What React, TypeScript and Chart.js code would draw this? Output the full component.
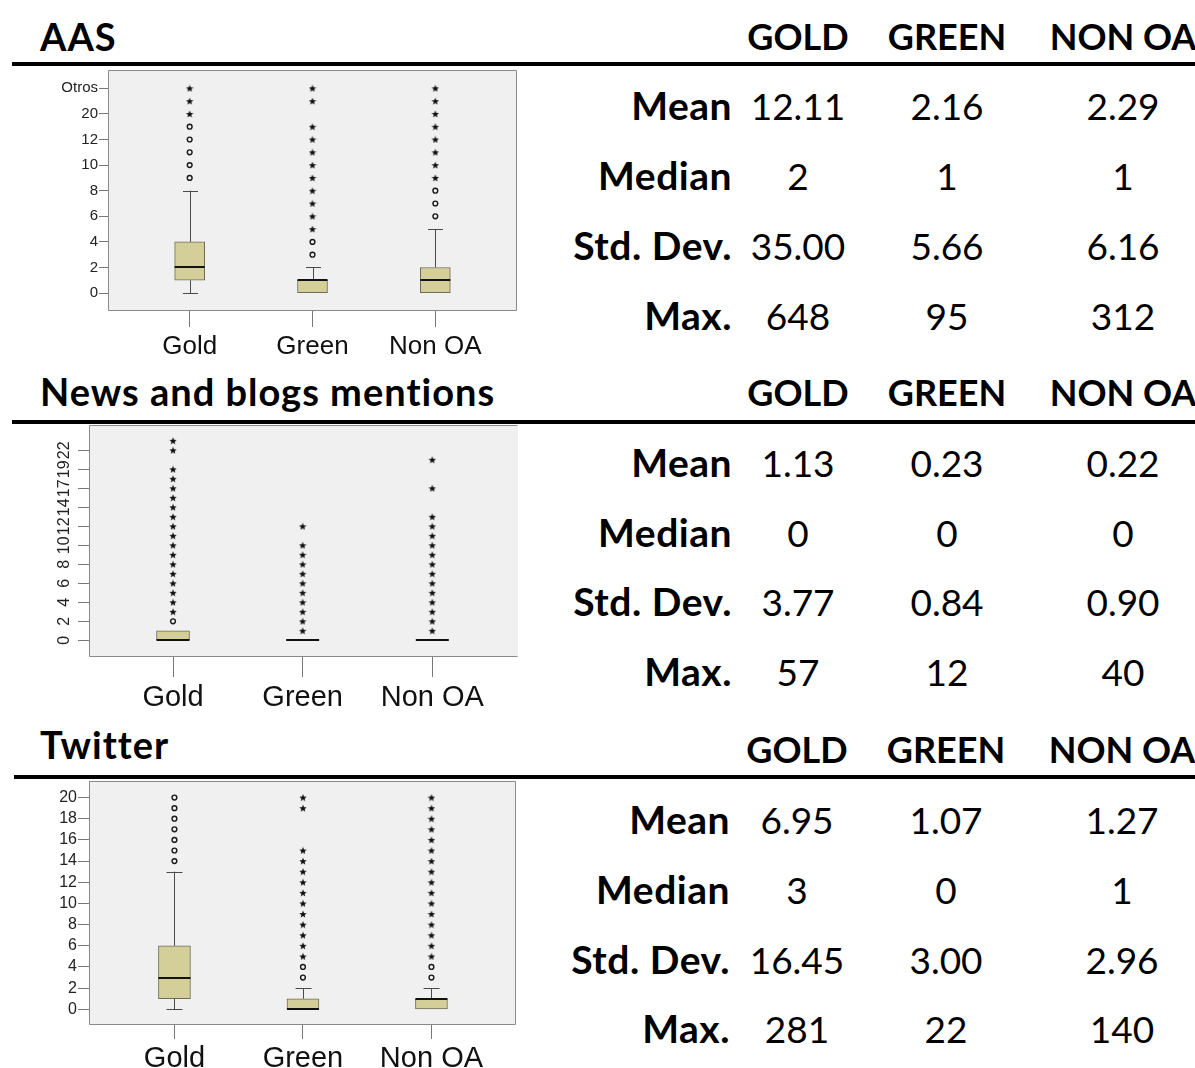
import React, { useEffect, useRef } from 'react';
import { Chart, registerables } from 'chart.js';
Chart.register(...registerables);

const categories = ['Gold', 'Green', 'Non OA'];
const statColumns = ['GOLD', 'GREEN', 'NON OA'];
const statRows = ['Mean', 'Median', 'Std. Dev.', 'Max.'];

// ---------- AAS ----------
const aasTickValues = [0, 2, 4, 6, 8, 10, 12, 14, 16];
const aasTickLabels = ['0', '2', '4', '6', '8', '10', '12', '20', 'Otros'];
const aasQ1 = [1, 0, 0];
const aasQ3 = [4, 1, 2];
const aasMedian = [2, 1, 1];
const aasWhiskerLow = [0, 0, 0];
const aasWhiskerHigh = [8, 2, 5];
const aasCircles = [[9, 10, 11, 12, 13], [3, 4], [6, 7, 8]];
const aasStars = [[14, 15, 16], [5, 6, 7, 8, 9, 10, 11, 12, 13, 15, 16], [9, 10, 11, 12, 13, 14, 15, 16]];
const aasMean = ['12.11', '2.16', '2.29'];
const aasMedianStat = ['2', '1', '1'];
const aasStd = ['35.00', '5.66', '6.16'];
const aasMax = ['648', '95', '312'];

// ---------- News and blogs ----------
const newsTickValues = [0, 2, 4, 6, 8, 10, 12, 14, 16, 18, 20];
const newsTickLabels = ['0', '2', '4', '6', '8', '10', '12', '14', '17', '19', '22'];
const newsQ1 = [0, 0, 0];
const newsQ3 = [1, 0, 0];
const newsMedian = [0, 0, 0];
const newsWhiskerLow = [0, 0, 0];
const newsWhiskerHigh = [1, 0, 0];
const newsCircles = [[2], [], []];
const newsStars = [
  [3, 4, 5, 6, 7, 8, 9, 10, 11, 12, 13, 14, 15, 16, 17, 18, 20, 21],
  [1, 2, 3, 4, 5, 6, 7, 8, 9, 10, 12],
  [1, 2, 3, 4, 5, 6, 7, 8, 9, 10, 11, 12, 13, 16, 19],
];
const newsMean = ['1.13', '0.23', '0.22'];
const newsMedianStat = ['0', '0', '0'];
const newsStd = ['3.77', '0.84', '0.90'];
const newsMax = ['57', '12', '40'];

// ---------- Twitter ----------
const twTickValues = [0, 2, 4, 6, 8, 10, 12, 14, 16, 18, 20];
const twTickLabels = ['0', '2', '4', '6', '8', '10', '12', '14', '16', '18', '20'];
const twQ1 = [1, 0, 0];
const twQ3 = [6, 1, 1];
const twMedian = [3, 0, 1];
const twWhiskerLow = [0, 0, 0];
const twWhiskerHigh = [13, 2, 2];
const twCircles = [[14, 15, 16, 17, 18, 19, 20], [3, 4], [3, 4]];
const twStars = [
  [],
  [5, 6, 7, 8, 9, 10, 11, 12, 13, 14, 15, 19, 20],
  [5, 6, 7, 8, 9, 10, 11, 12, 13, 14, 15, 16, 17, 18, 19, 20],
];
const twMean = ['6.95', '1.07', '1.27'];
const twMedianStat = ['3', '0', '1'];
const twStd = ['16.45', '3.00', '2.96'];
const twMax = ['281', '22', '140'];

const BOX_FILL = '#d4cf99';
const BOX_EDGE = '#6e6c56';
const PLOT_BG = '#f0f0f0';
const FRAME = '#8a8a8a';

function makeStar(): HTMLCanvasElement {
  const c = document.createElement('canvas');
  c.width = 8;
  c.height = 8;
  const ctx = c.getContext('2d')!;
  ctx.fillStyle = '#111';
  ctx.beginPath();
  for (let k = 0; k < 10; k++) {
    const r = k % 2 === 0 ? 3.9 : 1.7;
    const a = -Math.PI / 2 + (k * Math.PI) / 5;
    const px = 4 + r * Math.cos(a);
    const py = 4.4 + r * Math.sin(a);
    if (k === 0) ctx.moveTo(px, py);
    else ctx.lineTo(px, py);
  }
  ctx.closePath();
  ctx.fill();
  return c;
}

interface BoxSpec {
  canvasTop: number;
  canvasHeight: number;
  canvasWidth: number;
  area: { left: number; top: number; right: number; bottom: number };
  xMin: number;
  xMax: number;
  yMin: number;
  yMax: number;
  tickValues: number[];
  tickLabels: string[];
  q1: number[];
  q3: number[];
  median: number[];
  low: number[];
  high: number[];
  circles: number[][];
  stars: number[][];
  boxWidth: number;
  capWidth: number;
  yFontSize: number;
  yPad: number;
  yTickLen: number;
  rotateY: boolean;
  rotLabelX: number;
  xFontSize: number;
  xPad: number;
  xTickLen: number;
  borders: { top: boolean; right: boolean; bottom: boolean; left: boolean };
}

function makePlugin(s: BoxSpec) {
  return {
    id: 'boxparts',
    beforeDraw(chart: any) {
      const { ctx, chartArea: a } = chart;
      ctx.save();
      ctx.fillStyle = PLOT_BG;
      ctx.fillRect(a.left, a.top, a.right - a.left, a.bottom - a.top);
      ctx.restore();
    },
    beforeDatasetsDraw(chart: any) {
      const { ctx } = chart;
      const xs = chart.scales.x;
      const ys = chart.scales.y;
      ctx.save();
      ctx.strokeStyle = '#4a4a4a';
      ctx.lineWidth = 1;
      for (let i = 0; i < categories.length; i++) {
        const x = Math.round(xs.getPixelForValue(i)) + 0.5;
        const yq1 = ys.getPixelForValue(s.q1[i]);
        const yq3 = ys.getPixelForValue(s.q3[i]);
        const yl = ys.getPixelForValue(s.low[i]);
        const yh = ys.getPixelForValue(s.high[i]);
        ctx.beginPath();
        if (s.low[i] < s.q1[i]) {
          ctx.moveTo(x, yq1);
          ctx.lineTo(x, yl);
          ctx.moveTo(x - s.capWidth / 2, Math.round(yl) + 0.5);
          ctx.lineTo(x + s.capWidth / 2, Math.round(yl) + 0.5);
        }
        if (s.high[i] > s.q3[i]) {
          ctx.moveTo(x, yq3);
          ctx.lineTo(x, yh);
          ctx.moveTo(x - s.capWidth / 2, Math.round(yh) + 0.5);
          ctx.lineTo(x + s.capWidth / 2, Math.round(yh) + 0.5);
        }
        ctx.stroke();
      }
      ctx.restore();
    },
    afterDatasetsDraw(chart: any) {
      const { ctx } = chart;
      const xs = chart.scales.x;
      const ys = chart.scales.y;
      ctx.save();
      ctx.strokeStyle = '#111';
      ctx.lineWidth = 2;
      for (let i = 0; i < categories.length; i++) {
        const x = xs.getPixelForValue(i);
        const y = Math.round(ys.getPixelForValue(s.median[i]));
        ctx.beginPath();
        ctx.moveTo(x - s.boxWidth / 2, y);
        ctx.lineTo(x + s.boxWidth / 2, y);
        ctx.stroke();
      }
      ctx.restore();
    },
    afterDraw(chart: any) {
      const { ctx, chartArea: a } = chart;
      ctx.save();
      ctx.strokeStyle = FRAME;
      ctx.lineWidth = 1;
      const L = Math.round(a.left) + 0.5;
      const R = Math.round(a.right) - 0.5;
      const T = Math.round(a.top) + 0.5;
      const B = Math.round(a.bottom) - 0.5;
      ctx.beginPath();
      if (s.borders.top) { ctx.moveTo(L, T); ctx.lineTo(R, T); }
      if (s.borders.right) { ctx.moveTo(R, T); ctx.lineTo(R, B); }
      if (s.borders.bottom) { ctx.moveTo(L, B); ctx.lineTo(R, B); }
      if (s.borders.left) { ctx.moveTo(L, T); ctx.lineTo(L, B); }
      ctx.stroke();
      if (s.rotateY) {
        const ys = chart.scales.y;
        ctx.fillStyle = '#222';
        ctx.font = `${s.yFontSize}px "Liberation Sans", Arial, sans-serif`;
        ctx.textAlign = 'center';
        ctx.textBaseline = 'middle';
        s.tickValues.forEach((v, i) => {
          const y = ys.getPixelForValue(v);
          ctx.save();
          ctx.translate(s.rotLabelX, y);
          ctx.rotate(-Math.PI / 2);
          ctx.fillText(s.tickLabels[i], 0, 0);
          ctx.restore();
        });
      }
      ctx.restore();
    },
  };
}

function BoxChart({ spec }: { spec: BoxSpec }) {
  const ref = useRef<HTMLCanvasElement | null>(null);
  useEffect(() => {
    if (!ref.current) return;
    const s = spec;
    const star = makeStar();
    const circlePts: { x: number; y: number }[] = [];
    const starPts: { x: number; y: number }[] = [];
    s.circles.forEach((vals, i) => vals.forEach((v) => circlePts.push({ x: i, y: v })));
    s.stars.forEach((vals, i) => vals.forEach((v) => starPts.push({ x: i, y: v })));
    const chart = new Chart(ref.current, {
      type: 'bar',
      data: {
        datasets: [
          {
            type: 'bar',
            data: categories.map((_, i) => ({ x: i, y: [s.q1[i], s.q3[i]] })) as any,
            backgroundColor: BOX_FILL,
            borderColor: BOX_EDGE,
            borderWidth: 1,
            borderSkipped: false,
            barThickness: s.boxWidth,
          } as any,
          {
            type: 'scatter',
            data: circlePts,
            pointStyle: 'circle',
            pointRadius: 2.4,
            pointBorderWidth: 1.4,
            pointBorderColor: '#1a1a1a',
            pointBackgroundColor: PLOT_BG,
          } as any,
          {
            type: 'scatter',
            data: starPts,
            pointStyle: star,
            pointRadius: 4,
          } as any,
        ],
      },
      options: {
        animation: false,
        responsive: false,
        devicePixelRatio: 1,
        events: [],
        layout: {
          padding: {
            top: s.area.top - s.canvasTop,
            right: s.canvasWidth - s.area.right,
            left: 0,
            bottom: 0,
          },
        },
        plugins: { legend: { display: false }, tooltip: { enabled: false } },
        scales: {
          x: {
            type: 'linear',
            min: s.xMin,
            max: s.xMax,
            offset: false,
            afterBuildTicks: (ax: any) => {
              ax.ticks = categories.map((_, i) => ({ value: i }));
            },
            afterFit: (ax: any) => {
              ax.height = s.canvasTop + s.canvasHeight - s.area.bottom;
            },
            ticks: {
              autoSkip: false,
              maxRotation: 0,
              minRotation: 0,
              padding: s.xPad,
              color: '#111',
              font: { family: '"Liberation Sans", Arial, sans-serif', size: s.xFontSize },
              callback: (_v: any, i: number) => categories[i],
            },
            grid: {
              drawOnChartArea: false,
              drawTicks: true,
              tickLength: s.xTickLen,
              color: '#777',
              tickColor: '#777',
              offset: false,
            },
            border: { display: false },
          } as any,
          y: {
            type: 'linear',
            min: s.yMin,
            max: s.yMax,
            afterBuildTicks: (ax: any) => {
              ax.ticks = s.tickValues.map((v) => ({ value: v }));
            },
            afterFit: (ax: any) => {
              ax.width = s.area.left;
            },
            ticks: {
              display: !s.rotateY,
              autoSkip: false,
              padding: s.yPad,
              color: '#222',
              font: { family: '"Liberation Sans", Arial, sans-serif', size: s.yFontSize },
              callback: (_v: any, i: number) => s.tickLabels[i],
            },
            grid: {
              drawOnChartArea: false,
              drawTicks: true,
              tickLength: s.yTickLen,
              color: '#777',
              tickColor: '#777',
            },
            border: { display: false },
          } as any,
        },
      },
      plugins: [makePlugin(s) as any],
    });
    return () => chart.destroy();
  }, [spec]);
  return (
    <canvas
      ref={ref}
      width={spec.canvasWidth}
      height={spec.canvasHeight}
      style={{ position: 'absolute', left: 0, top: spec.canvasTop, width: spec.canvasWidth, height: spec.canvasHeight }}
    />
  );
}

const aasSpec: BoxSpec = {
  canvasTop: 60, canvasHeight: 310, canvasWidth: 540,
  area: { left: 108, top: 69, right: 517, bottom: 311 },
  xMin: -0.665, xMax: 2.665, yMin: -1.4, yMax: 17.43,
  tickValues: aasTickValues, tickLabels: aasTickLabels,
  q1: aasQ1, q3: aasQ3, median: aasMedian, low: aasWhiskerLow, high: aasWhiskerHigh,
  circles: aasCircles, stars: aasStars,
  boxWidth: 30, capWidth: 15,
  yFontSize: 15, yPad: 1, yTickLen: 9, rotateY: false, rotLabelX: 0,
  xFontSize: 26, xPad: 4, xTickLen: 16,
  borders: { top: true, right: true, bottom: true, left: true },
};

const newsSpec: BoxSpec = {
  canvasTop: 415, canvasHeight: 310, canvasWidth: 540,
  area: { left: 89, top: 425, right: 518, bottom: 657 },
  xMin: -0.648, xMax: 2.661, yMin: -1.76, yMax: 22.66,
  tickValues: newsTickValues, tickLabels: newsTickLabels,
  q1: newsQ1, q3: newsQ3, median: newsMedian, low: newsWhiskerLow, high: newsWhiskerHigh,
  circles: newsCircles, stars: newsStars,
  boxWidth: 33, capWidth: 15,
  yFontSize: 16, yPad: 2, yTickLen: 11, rotateY: true, rotLabelX: 65,
  xFontSize: 29, xPad: 4, xTickLen: 20,
  borders: { top: true, right: false, bottom: true, left: true },
};

const twSpec: BoxSpec = {
  canvasTop: 770, canvasHeight: 298, canvasWidth: 540,
  area: { left: 89, top: 780, right: 516, bottom: 1025 },
  xMin: -0.665, xMax: 2.658, yMin: -1.48, yMax: 21.6,
  tickValues: twTickValues, tickLabels: twTickLabels,
  q1: twQ1, q3: twQ3, median: twMedian, low: twWhiskerLow, high: twWhiskerHigh,
  circles: twCircles, stars: twStars,
  boxWidth: 32, capWidth: 16,
  yFontSize: 16, yPad: 1, yTickLen: 11, rotateY: false, rotLabelX: 0,
  xFontSize: 29, xPad: 3, xTickLen: 14,
  borders: { top: true, right: true, bottom: true, left: true },
};

const FONT = 'Lato, "Open Sans", sans-serif';

function Txt({ text, x, y, align, bold, size, spacing }: { text: string; x: number; y: number; align: 'left' | 'center' | 'right'; bold?: boolean; size: number; spacing?: number }) {
  const w = 520;
  const left = align === 'left' ? x : align === 'center' ? x - w / 2 : x - w;
  return (
    <div
      style={{
        position: 'absolute',
        left,
        top: y - 0.53 * size,
        width: w,
        textAlign: align,
        fontFamily: FONT,
        fontWeight: bold ? 700 : 400,
        fontSize: size,
        lineHeight: `${size}px`,
        letterSpacing: spacing ? `${spacing}px` : undefined,
        marginRight: align === 'right' && spacing ? -spacing : undefined,
        whiteSpace: 'nowrap',
        color: '#000',
      }}
    >
      {text}
    </div>
  );
}

interface Section {
  title: string;
  titleY: number;
  headY: number;
  ruleY: number;
  ruleX: number;
  rowsY: number[];
  colX: number[];
  labelRight: number;
  values: string[][];
}

const sections: Section[] = [
  { title: 'AAS', titleY: 37, headY: 37, ruleY: 62, ruleX: 12, rowsY: [107, 177, 247, 317], colX: [798, 947, 1123], labelRight: 732, values: [aasMean, aasMedianStat, aasStd, aasMax] },
  { title: 'News and blogs mentions', titleY: 392, headY: 393, ruleY: 420, ruleX: 12, rowsY: [464, 534, 603, 673], colX: [798, 947, 1123], labelRight: 732, values: [newsMean, newsMedianStat, newsStd, newsMax] },
  { title: 'Twitter', titleY: 745, headY: 750, ruleY: 775, ruleX: 14, rowsY: [821, 891, 961, 1030], colX: [797, 946, 1122], labelRight: 730, values: [twMean, twMedianStat, twStd, twMax] },
];

export default function App() {
  useEffect(() => {
    document.body.style.margin = '0';
  }, []);
  return (
    <div style={{ position: 'relative', width: 1195, height: 1068, overflow: 'hidden', background: '#fff' }}>
      {sections.map((sec, si) => (
        <React.Fragment key={si}>
          <Txt text={sec.title} x={40} y={sec.titleY} align="left" bold size={38} spacing={1} />
          {statColumns.map((c, ci) => (
            <Txt key={'h' + ci} text={c} x={sec.colX[ci]} y={sec.headY} align="center" bold size={36} />
          ))}
          <div style={{ position: 'absolute', left: sec.ruleX, top: sec.ruleY, width: 1195 - sec.ruleX, height: 4, background: '#000' }} />
          {statRows.map((r, ri) => (
            <React.Fragment key={'r' + ri}>
              <Txt text={r} x={sec.labelRight} y={sec.rowsY[ri]} align="right" bold size={39} spacing={0.5} />
              {sec.values[ri].map((v, ci) => (
                <Txt key={'v' + ci} text={v} x={sec.colX[ci]} y={sec.rowsY[ri]} align="center" size={37} />
              ))}
            </React.Fragment>
          ))}
        </React.Fragment>
      ))}
      <BoxChart spec={aasSpec} />
      <BoxChart spec={newsSpec} />
      <BoxChart spec={twSpec} />
    </div>
  );
}
